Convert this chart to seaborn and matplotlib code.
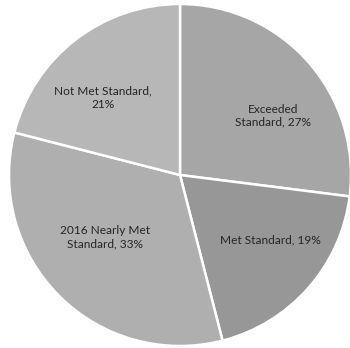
import matplotlib
matplotlib.use("Agg")
import matplotlib.pyplot as plt
import numpy as np
import seaborn as sns

sns.set_theme(style="white")
plt.rcParams["font.family"] = ["Lato", "DejaVu Sans"]

categories = ["Exceeded\nStandard", "Met Standard", "2016 Nearly Met\nStandard", "Not Met Standard,\n"]
shares = [27, 19, 33, 21]
colors = ["#a6a6a6", "#979797", "#afafaf", "#b7b7b7"]

# best-fit label placement: angular shift (deg) and radial distance per slice
label_shift = [-9, 5.6, -5.4, 7.2]
label_dist = [0.645, 0.65, 0.57, 0.64]

labels = []
for name, pct in zip(categories, shares):
    if name.endswith("\n"):
        labels.append(f"{name}{pct}%")
    else:
        labels.append(f"{name}, {pct}%")

fig = plt.figure(figsize=(3.5, 3.48), dpi=100)
cx, cy, r = 180, 348 - 175, 171
ax = fig.add_axes([(cx - r) / 350, (cy - r) / 348, 2 * r / 350, 2 * r / 348])

wedges, texts = ax.pie(
    shares,
    labels=labels,
    colors=colors,
    startangle=90,
    counterclock=False,
    labeldistance=0.64,
    radius=1.0,
    wedgeprops=dict(edgecolor="white", linewidth=1.8),
    textprops=dict(color="#262626", fontsize=8.6),
)
for w, t, da, d in zip(wedges, texts, label_shift, label_dist):
    mid = np.deg2rad((w.theta1 + w.theta2) / 2 + da)
    t.set_position((d * np.cos(mid), d * np.sin(mid)))
    t.set_horizontalalignment("center")
    t.set_verticalalignment("center")
    t.set_multialignment("center")

ax.set_xlim(-1, 1)
ax.set_ylim(-1, 1)
ax.set_aspect("auto")
ax.axis("off")

fig.savefig("out.png", dpi=100, facecolor="white")
